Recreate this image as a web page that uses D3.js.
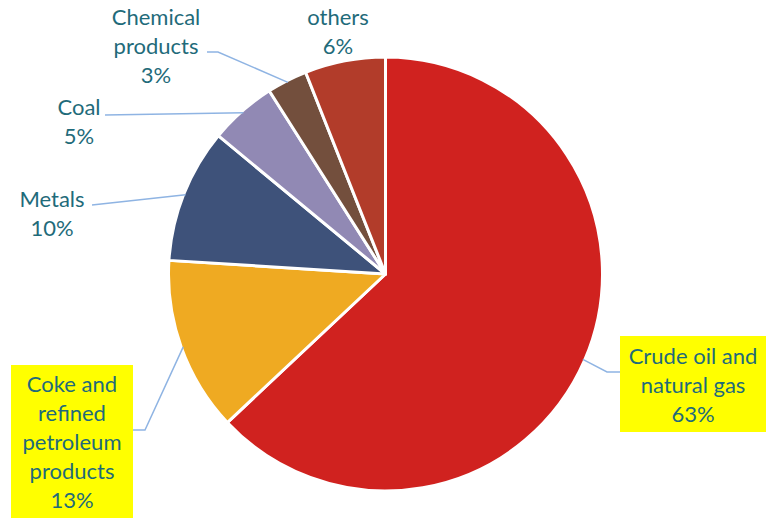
<!DOCTYPE html>
<html>
<head>
<meta charset="utf-8">
<script src="https://cdn.jsdelivr.net/npm/d3@7"></script>
<style>
  html, body { margin: 0; padding: 0; background: #fff; }
  svg { display: block; }
</style>
</head>
<body>
<svg id="chart" width="768" height="518"></svg>
<script>
// Shares of the product groups
const categories = ["Crude oil and natural gas", "Coke and refined petroleum products", "Metals", "Coal", "Chemical products", "others"];
const shares = [63, 13, 10, 5, 3, 6];
const colors = ["#d0221f", "#efaa22", "#3e527a", "#9189b4", "#734f3d", "#b23c2a"];

// Label text lines per slice
const labelLines = [
  ["Crude oil and", "natural gas"],
  ["Coke and", "refined", "petroleum", "products"],
  ["Metals"],
  ["Coal"],
  ["Chemical", "products"],
  ["others"]
];

const cx = 385.5, cy = 274, R = 217;
const svg = d3.select("#chart");

const data = categories.map((c, i) => ({ name: c, value: shares[i], color: colors[i], lines: labelLines[i] }));

const pie = d3.pie().value(d => d.value).sort(null);
const arc = d3.arc().innerRadius(0).outerRadius(R);
const arcs = pie(data);

const g = svg.append("g").attr("transform", `translate(${cx},${cy})`);
g.selectAll("path.slice")
  .data(arcs)
  .enter().append("path")
  .attr("class", "slice")
  .attr("d", arc)
  .attr("fill", d => d.data.color)
  .attr("stroke", "#fff")
  .attr("stroke-width", 3)
  .attr("stroke-linejoin", "round");

// Label block centres (first line baseline middle)
const labelPos = [
  { x: 693, y: 356 },
  { x: 72, y: 384 },
  { x: 52, y: 199 },
  { x: 79, y: 107 },
  { x: 156, y: 17 },
  { x: 338, y: 17 }
];
const lineH = 29;
const fontFamily = "Lato, 'Open Sans', sans-serif";
const textColor = "#1f6b7a";
const leaderColor = "#8fb4e3";

// Yellow boxes behind the two large-share labels
const boxes = [
  { x: 620, y: 336, w: 146, h: 96 },
  { x: 11, y: 365, w: 122, h: 153 }
];
boxes.forEach(b => {
  svg.append("rect")
    .attr("x", b.x).attr("y", b.y).attr("width", b.w).attr("height", b.h)
    .attr("fill", "#ffff00");
});

// Leader lines: from label edge, short horizontal run, then to the slice's mid-angle on the rim
const rimPoint = a => {
  const ang = (a.startAngle + a.endAngle) / 2;
  return [cx + Math.sin(ang) * (R - 2), cy - Math.cos(ang) * (R - 2)];
};
const leaders = [
  { i: 0, start: [620, 372], elbow: [607, 372] },
  { i: 1, start: [133, 430], elbow: [145, 430] },
  { i: 2, start: [92, 205], elbow: [92, 205] },
  { i: 3, start: [105, 115], elbow: [105, 115] },
  { i: 4, start: [207, 52], elbow: [218, 52] }
];
leaders.forEach(l => {
  const p = rimPoint(arcs[l.i]);
  svg.append("polyline")
    .attr("points", [l.start, l.elbow, p].map(q => q.join(",")).join(" "))
    .attr("fill", "none")
    .attr("stroke", leaderColor)
    .attr("stroke-width", 1.5);
});

// Label text
data.forEach((d, i) => {
  const pos = labelPos[i];
  const t = svg.append("text")
    .attr("text-anchor", "middle")
    .attr("font-family", fontFamily)
    .attr("font-size", 22)
    .attr("fill", textColor);
  const all = d.lines.concat([d.value + "%"]);
  all.forEach((ln, k) => {
    t.append("tspan")
      .attr("x", pos.x)
      .attr("y", pos.y + k * lineH)
      .attr("dy", "0.35em")
      .text(ln);
  });
});
</script>
</body>
</html>
